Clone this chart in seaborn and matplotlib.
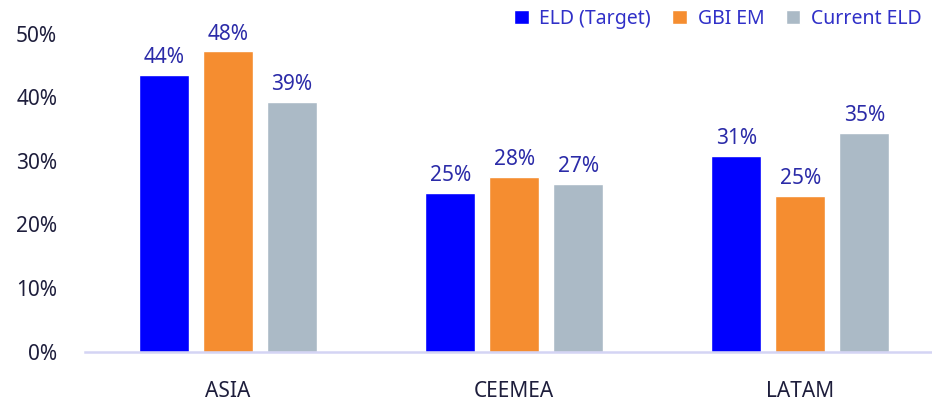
import matplotlib
matplotlib.use("Agg")
import matplotlib.pyplot as plt
import seaborn as sns
import pandas as pd

categories = ["ASIA", "CEEMEA", "LATAM"]
series_names = ["ELD (Target)", "GBI EM", "Current ELD"]
eld_target = [43.5, 25.0, 30.7]
gbi_em = [47.2, 27.4, 24.5]
current_eld = [39.2, 26.4, 34.4]
eld_target_labels = ["44%", "25%", "31%"]
gbi_em_labels = ["48%", "28%", "25%"]
current_eld_labels = ["39%", "27%", "35%"]
y_ticks = [0, 10, 20, 30, 40, 50]

colors = ["#0000FF", "#F58D30", "#ABBAC6"]

sns.set_style("white")
plt.rcParams["font.family"] = ["Noto Sans", "DejaVu Sans"]

rows = []
for name, vals in zip(series_names, [eld_target, gbi_em, current_eld]):
    for c, v in zip(categories, vals):
        rows.append({"region": c, "series": name, "value": v})
df = pd.DataFrame(rows)

fig = plt.figure(figsize=(9.32, 4.04), dpi=100)
ax = fig.add_axes([85 / 932, (404 - 351.5) / 404, 847 / 932, 351.5 / 404])

sns.barplot(data=df, x="region", y="value", hue="series", order=categories,
            hue_order=series_names, palette=colors, width=0.671, gap=0.22,
            saturation=1, ax=ax, legend=True)

for cont, labs in zip(ax.containers, [eld_target_labels, gbi_em_labels, current_eld_labels]):
    ax.bar_label(cont, labels=labs, padding=5, fontsize=15, color="#2B2BA8")

ax.set_ylim(0, 55.3)
ax.set_xlim(-0.5, 2.46)
ax.set_yticks(y_ticks)
ax.set_yticklabels([f"{t}%" for t in y_ticks])
ax.tick_params(axis="y", length=0, pad=20, labelsize=15, labelcolor="#1E1E3C")
ax.tick_params(axis="x", length=0, pad=21, labelsize=15, labelcolor="#1E1E3C")
ax.set_xlabel("")
ax.set_ylabel("")
for s in ["top", "right", "left"]:
    ax.spines[s].set_visible(False)
ax.spines["bottom"].set_color("#D4D4F4")
ax.spines["bottom"].set_linewidth(1.8)

handles, labels = ax.get_legend_handles_labels()
leg = ax.legend(handles, labels, loc="upper right", bbox_to_anchor=(0.998, 1.0),
                ncol=3, frameon=False, fontsize=14, handlelength=0.75,
                handleheight=0.75, handletextpad=0.55, columnspacing=1.1,
                borderaxespad=0.0, borderpad=0.45)
for t in leg.get_texts():
    t.set_color("#3030C8")

fig.savefig("out.png", dpi=100)
